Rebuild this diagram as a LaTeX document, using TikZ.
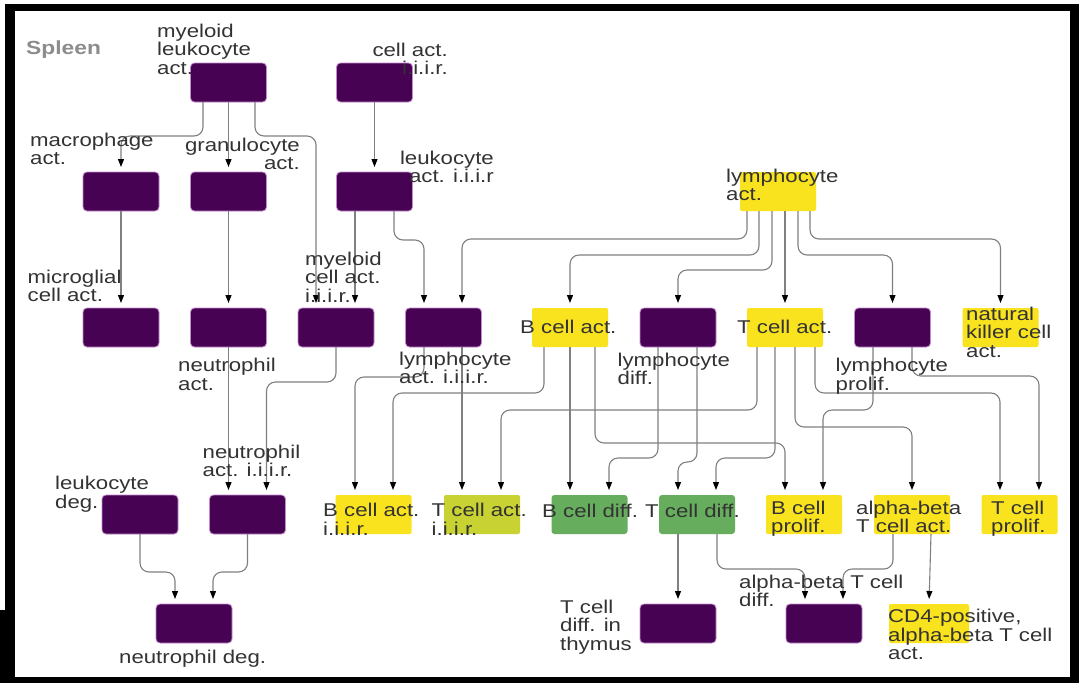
\documentclass[tikz,border=0pt]{standalone}
\usepackage{fontspec}
\setmainfont{Liberation Sans}[FakeStretch=1.2]
\usetikzlibrary{arrows.meta}
\definecolor{purp}{HTML}{480254}
\definecolor{purpedge}{HTML}{C08ACB}
\definecolor{yel}{HTML}{F9E21E}
\definecolor{ygr}{HTML}{C8D232}
\definecolor{grn}{HTML}{66AE5E}
\definecolor{txt}{HTML}{333333}
\definecolor{wire}{HTML}{808080}
\definecolor{spl}{HTML}{8C8C8C}
\begin{document}
\begin{tikzpicture}[x=1pt,y=-1pt,
  box/.style={minimum width=76pt,minimum height=39pt,inner sep=0pt,outer sep=0pt},
  pbox/.style={box,fill=purp,draw=purpedge,line width=0.8pt,rounded corners=4pt},
  ybox/.style={box,fill=yel,rounded corners=2pt},
  yg/.style={box,fill=ygr,rounded corners=2pt},
  gbox/.style={box,fill=grn,rounded corners=3pt},
  lbl/.style={font=\fontsize{18.5}{18.5}\selectfont,text=txt,inner sep=0pt,align=left,anchor=base west},
  lblr/.style={lbl,align=right,anchor=base east},
  conn/.style={draw=wire,line width=1.1pt,rounded corners=9pt,-{Triangle[length=8pt,width=6pt,color=black]},shorten >=5pt},
]
\useasboundingbox (0,0) rectangle (1079,683);
% frame
\fill[black] (5,4) rectangle (1079,683);
\fill[black] (0,610) rectangle (5,683);
\fill[white] (15,11) rectangle (1070,677);

% boxes
\node[pbox] (mla) at (228.5,82.5) {};
\node[pbox] (cai) at (374.5,82.5) {};
\node[pbox] (mac) at (121,191.5) {};
\node[pbox] (gran) at (228.5,191.5) {};
\node[pbox] (lai) at (374.5,191.5) {};
\node[ybox] (lyact) at (778,191.5) {};
\node[pbox] (micro) at (121,327.5) {};
\node[pbox] (neut) at (228.5,327.5) {};
\node[pbox] (mca) at (336,327.5) {};
\node[pbox] (lyai) at (443.5,327.5) {};
\node[ybox] (bca) at (570,327.5) {};
\node[pbox] (ldiff) at (678,327.5) {};
\node[ybox] (tca) at (785,327.5) {};
\node[pbox] (lprol) at (892.5,327.5) {};
\node[ybox] (nk) at (1000.5,327.5) {};
\node[pbox] (ldeg) at (140,514.5) {};
\node[pbox] (niiir) at (247.5,514.5) {};
\node[ybox] (bai) at (373.5,514.5) {};
\node[yg] (tai) at (482,514.5) {};
\node[gbox] (bcd) at (589.5,514.5) {};
\node[gbox] (tcd) at (697,514.5) {};
\node[ybox] (bcp) at (804,514.5) {};
\node[ybox] (abta) at (912,514.5) {};
\node[ybox] (tcp) at (1019.5,514.5) {};
\node[pbox] (ndeg) at (194,623.5) {};
\node[pbox] (tcdt) at (678,623.5) {};
\node[pbox] (abtd) at (824,623.5) {};
\node[ybox,minimum width=80pt] (cd4) at (929,623.5) {};

% connectors
\draw[conn] ([xshift=-25.5pt]mla.south) |- (121,136) -- (mac.north);
\draw[conn] (mla.south) -- (gran.north);
\draw[conn] ([xshift=26.5pt]mla.south) |- (316,136) -- ([xshift=-20pt]mca.north);
\draw[conn] (cai.south) -- (lai.north);
\draw[conn] ([xshift=-19.5pt]lai.south) -- ([xshift=19pt]mca.north);
\draw[conn] ([xshift=19.5pt]lai.south) |- (424,240) -- ([xshift=-19.5pt]lyai.north);
\draw[conn] (mac.south) -- (micro.north);
\draw[conn] (gran.south) -- (neut.north);
\draw[conn] (neut.south) -- ([xshift=-19pt]niiir.north);
\draw[conn] (mca.south) |- (266.5,382) -- ([xshift=19pt]niiir.north);
\draw[conn] ([xshift=-19.5pt]lyai.south) |- (355,377) -- ([xshift=-18.5pt]bai.north);
\draw[conn] ([xshift=18.5pt]lyai.south) -- ([xshift=-20pt]tai.north);
\draw[conn] ([xshift=-26pt]bca.south) |- (393,393) -- ([xshift=19.5pt]bai.north);
\draw[conn] (bca.south) -- ([xshift=-19.5pt]bcd.north);
\draw[conn] ([xshift=25pt]bca.south) |- (785,443) -- ([xshift=-19pt]bcp.north);
\draw[conn] ([xshift=-20pt]ldiff.south) |- (609,458) -- ([xshift=19.5pt]bcd.north);
\draw[conn] ([xshift=19pt]ldiff.south) |- (678,462) -- ([xshift=-19pt]tcd.north);
\draw[conn] ([xshift=-28pt]tca.south) |- (501,410) -- ([xshift=19pt]tai.north);
\draw[conn] ([xshift=-10pt]tca.south) |- (716,458) -- ([xshift=19pt]tcd.north);
\draw[conn] ([xshift=10pt]tca.south) |- (912,427) -- (abta.north);
\draw[conn] ([xshift=30pt]tca.south) |- (1000,393) -- ([xshift=-19.5pt]tcp.north);
\draw[conn] ([xshift=-19.5pt]lprol.south) |- (823,410) -- ([xshift=19pt]bcp.north);
\draw[conn] ([xshift=19.5pt]lprol.south) |- (1039,376) -- ([xshift=19.5pt]tcp.north);
\draw[conn] ([xshift=-31pt]lyact.south) |- (462,239) -- ([xshift=18.5pt]lyai.north);
\draw[conn] ([xshift=-19pt]lyact.south) |- (570,255) -- (bca.north);
\draw[conn] ([xshift=-6pt]lyact.south) |- (678,270) -- (ldiff.north);
\draw[conn] ([xshift=7pt]lyact.south) -- (tca.north);
\draw[conn] ([xshift=20pt]lyact.south) |- (892.5,255) -- (lprol.north);
\draw[conn] ([xshift=32pt]lyact.south) |- (1000.5,239) -- (nk.north);
\draw[conn] (ldeg.south) |- (175,572) -- ([xshift=-19pt]ndeg.north);
\draw[conn] (niiir.south) |- (213,572) -- ([xshift=19pt]ndeg.north);
\draw[conn] ([xshift=-19pt]tcd.south) -- (tcdt.north);
\draw[conn] ([xshift=20pt]tcd.south) |- (805,569) -- ([xshift=-19pt]abtd.north);
\draw[conn] ([xshift=-19pt]abta.south) |- (843,569) -- ([xshift=19pt]abtd.north);
\draw[conn] ([xshift=19pt]abta.south) -- (cd4.north);

% labels (anchor = baseline of the last line)
\node[lbl,font=\fontsize{19}{19}\selectfont\bfseries,text=spl] (tspleen) at (26,54) {Spleen};
\node[lbl] (tmla) at (157,74) {myeloid\\leukocyte\\act.};
\node[lblr] (tcai) at (448,74.5) {cell act.\\i.i.i.r.};
\node[lbl] (tmac) at (30,164.5) {macrophage\\act.};
\node[lblr] (tgran) at (300,169.5) {granulocyte\\act.};
\node[lblr] (tlai) at (494,182.5) {leukocyte\\act. i.i.i.r};
\node[lbl] (tlyact) at (726,200.5) {lymphocyte\\act.};
\node[lbl] (tmicro) at (27.5,301.5) {microglial\\cell act.};
\node[lbl] (tmca) at (305,302) {myeloid\\cell act.\\i.i.i.r.};
\node[lbl] (tneut) at (178,390) {neutrophil\\act.};
\node[lbl] (tlyai) at (399,383.5) {lymphocyte\\act. i.i.i.r.};
\node[lbl] (tbca) at (520,333.5) {B cell act.};
\node[lbl] (tldiff) at (617.5,384.5) {lymphocyte\\diff.};
\node[lbl] (ttca) at (737,333.5) {T cell act.};
\node[lbl] (tlprol) at (835.5,390) {lymphocyte\\prolif.};
\node[lbl] (tnk) at (966,357) {natural\\killer cell\\act.};
\node[lbl] (tldeg) at (55,508) {leukocyte\\deg.};
\node[lbl] (tniiir) at (202.5,476.5) {neutrophil\\act. i.i.i.r.};
\node[lbl] (tbai) at (323,535) {B cell act.\\i.i.i.r.};
\node[lbl] (ttai) at (431.5,535) {T cell act.\\i.i.i.r.};
\node[lbl] (tbcd) at (542,517.5) {B cell diff.};
\node[lbl] (ttcd) at (645,517.5) {T cell diff.};
\node[lbl] (tbcp) at (771,532.5) {B cell\\prolif.};
\node[lbl] (tabta) at (856,532.5) {alpha-beta\\T cell act.};
\node[lbl] (ttcp) at (991,532.5) {T cell\\prolif.};
\node[lbl] (tndeg) at (119,663) {neutrophil deg.};
\node[lbl] (ttcdt) at (560,650) {T cell\\diff. in\\thymus};
\node[lbl] (tabtd) at (739,606.5) {alpha-beta T cell\\diff.};
\node[lbl] (tcd4) at (888,659.5) {CD4-positive,\\alpha-beta T cell\\act.};
\end{tikzpicture}
\end{document}
